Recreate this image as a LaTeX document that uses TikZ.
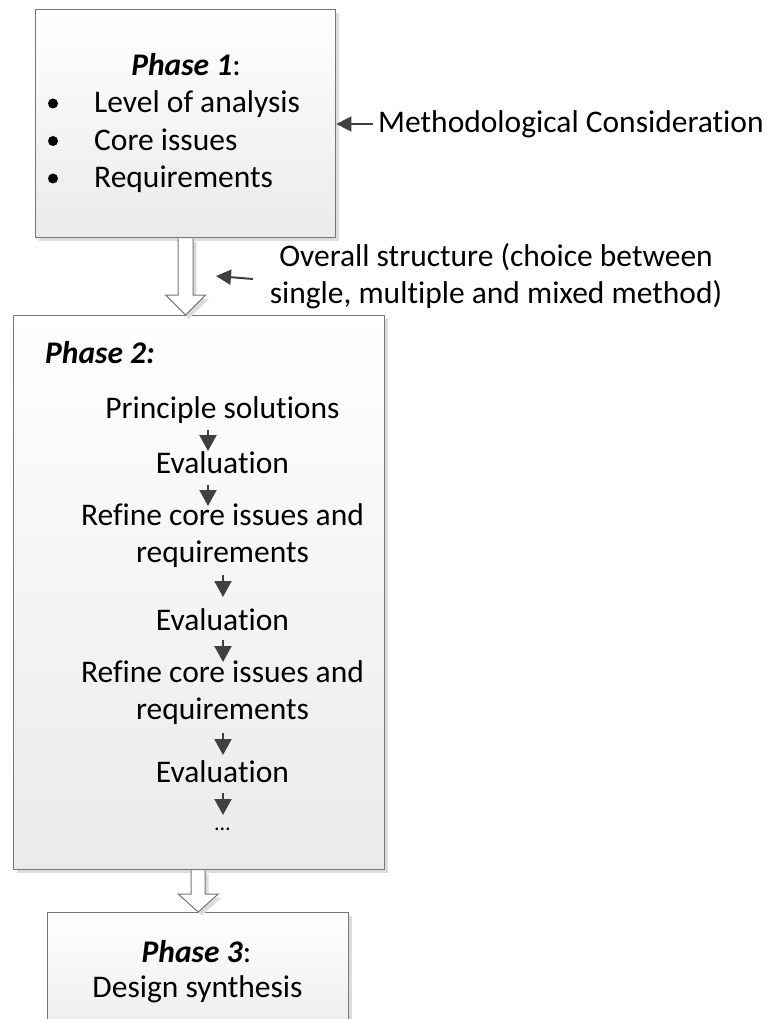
\documentclass[tikz,border=0pt]{standalone}
\usepackage{fontspec}
\setmainfont{Carlito}[Ligatures=NoCommon]
\usetikzlibrary{arrows.meta,calc,shadows}

\definecolor{edgegray}{HTML}{767676}
\definecolor{shadowgray}{HTML}{DCDCDC}
\definecolor{arrowdark}{HTML}{404040}
\definecolor{boxbottom}{HTML}{EAEAEA}

\tikzset{
  softshadow/.style={drop shadow={shadow xshift=3.5pt, shadow yshift=-3.5pt, fill=shadowgray, opacity=1}},
  phasebox/.style={rectangle, draw=edgegray, line width=1.4pt, top color=white, bottom color=boxbottom,
                   inner sep=0pt, anchor=north west, softshadow},
  hollowarrow/.style={draw=edgegray, line width=1pt, fill=white, softshadow},
  smallarrow/.style={draw=arrowdark, line width=2.2pt, -{Triangle[length=16pt,width=17pt]}, arrowdark},
  leadarrow/.style={draw=arrowdark, line width=2pt, -{Triangle[length=15pt,width=15pt]}, arrowdark},
  txt/.style={inner sep=0pt, anchor=base, font=\fontsize{31.5}{37}\selectfont},
  txtleft/.style={txt, anchor=base west},
  bulletdot/.style={circle, fill=black, inner sep=0pt, minimum size=10pt},
}

\newcommand{\phasetitle}[1]{\textbf{\textit{#1}}}

\begin{document}
\begin{tikzpicture}[x=1pt,y=1pt]
\useasboundingbox (0,0) rectangle (769,-1019);
\clip (0,0) rectangle (769,-1019);

% the three phase boxes
\node[phasebox, minimum width=300pt, minimum height=228pt] (p1) at (35,-9) {};
\node[phasebox, minimum width=371pt, minimum height=554pt] (p2) at (13,-315) {};
\node[phasebox, minimum width=301pt, minimum height=140pt] (p3) at (47,-912) {};

% hollow block arrows between the phases
\coordinate (t1) at (p1.south |- p2.north);
\draw[hollowarrow] ($(p1.south)+(-7.5,0)$) -- ($(t1)+(-7.5,20)$) -- ($(t1)+(-20,20)$)
  -- (t1) -- ($(t1)+(20,20)$) -- ($(t1)+(7.5,20)$) -- ($(p1.south)+(7.5,0)$);
\coordinate (s2) at (p3.north |- p2.south);
\draw[hollowarrow] ($(s2)+(-7,0)$) -- ($(p3.north)+(-7,18)$) -- ($(p3.north)+(-20,18)$)
  -- (p3.north) -- ($(p3.north)+(20,18)$) -- ($(p3.north)+(7,18)$) -- ($(s2)+(7,0)$);

% phase 1 contents
\node[txt] (ph1) at (186,-75.5) {\phasetitle{Phase 1}:};
\node[bulletdot] (b1) at (53,-103.5) {};
\node[bulletdot] (b2) at (53,-141) {};
\node[bulletdot] (b3) at (53,-178.5) {};
\node[txtleft] (l1) at (94,-113) {Level of analysis};
\node[txtleft] (l2) at (94,-150.5) {Core issues};
\node[txtleft] (l3) at (94,-188) {Requirements};

% side remarks
\node[txtleft] (mc) at (378,-133) {Methodological Consideration};
\coordinate (mctail) at (373,-124);
\coordinate (mctip) at (p1.east |- mctail);
\draw[leadarrow] (mctail) -- (mctip);

\node[txt] (ov1) at (496,-266) {Overall structure (choice between};
\node[txt] (ov2) at (496,-303) {single, multiple and mixed method)};
\coordinate (ovtail) at (253,-279);
\coordinate (ovtip) at (216,-276);
\draw[leadarrow] (ovtail) -- (ovtip);

% phase 2 contents
\node[txtleft] (ph2) at (45,-363) {\phasetitle{Phase 2:}};
\node[txt] (s1) at (222.5,-418) {Principle solutions};
\node[txt] (e1) at (222.5,-473) {Evaluation};
\node[txt] (r1a) at (222.5,-525) {Refine core issues and};
\node[txt] (r1b) at (222.5,-562) {requirements};
\node[txt] (e2) at (222.5,-630) {Evaluation};
\node[txt] (r2a) at (222.5,-682) {Refine core issues and};
\node[txt] (r2b) at (222.5,-719) {requirements};
\node[txt] (e3) at (222.5,-782) {Evaluation};
\node[txt, font=\fontsize{22}{26}\selectfont] (dots) at (222.5,-830) {…};

% step arrows inside phase 2
\foreach \n/\x/\ya/\yb in {a/208/430/451, b/208/485/506, c/223/575/597,
                            d/223/640/662, e/223/733/755, f/223/793/815} {
  \coordinate (\n top) at (\x,-\ya);
  \coordinate (\n tip) at (\x,-\yb);
  \draw[smallarrow] (\n top) -- (\n tip);
}

% phase 3 contents
\node[txt] (ph3) at (196.5,-962) {\phasetitle{Phase 3}:};
\node[txt] (ds) at (197.5,-997) {Design synthesis};
\end{tikzpicture}
\end{document}
